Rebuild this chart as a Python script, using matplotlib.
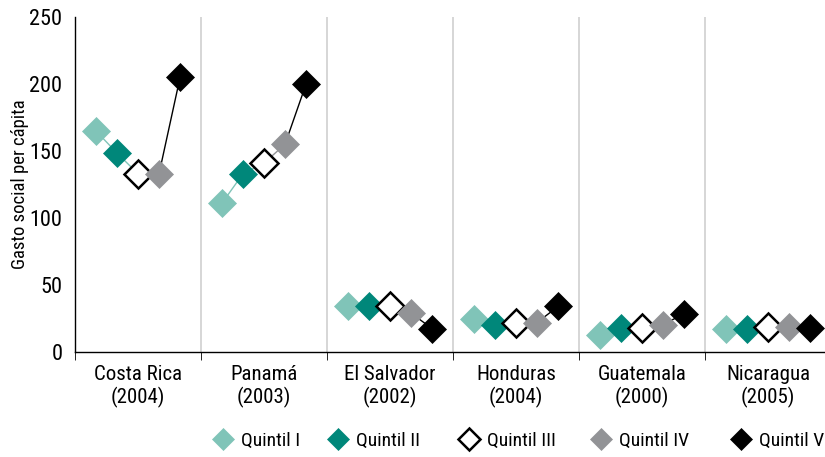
import numpy as np
import matplotlib.pyplot as plt
from matplotlib import font_manager
from matplotlib.lines import Line2D

names = set(f.name for f in font_manager.fontManager.ttflist)
fam = 'DejaVu Sans'
for cand in ['Roboto Condensed', 'Liberation Sans Narrow', 'Open Sans Condensed', 'Roboto']:
    if cand in names:
        fam = cand
        break
plt.rcParams['font.family'] = [fam, 'DejaVu Sans']

countries = ["Costa Rica\n(2004)", "Panamá\n(2003)", "El Salvador\n(2002)",
             "Honduras\n(2004)", "Guatemala\n(2000)", "Nicaragua\n(2005)"]
quintiles = ["Quintil I", "Quintil II", "Quintil III", "Quintil IV", "Quintil V"]

# gasto social per capita by country, quintil I..V
costa_rica = [165, 148.5, 133, 133, 205]
panama = [111, 133, 141, 155, 200]
el_salvador = [34, 34, 34, 29, 17.5]
honduras = [24.5, 20.5, 22, 22, 34]
guatemala = [12.5, 18, 18, 20.5, 28.5]
nicaragua = [17, 17, 18.5, 18.5, 18]
data = [costa_rica, panama, el_salvador, honduras, guatemala, nicaragua]

face = ["#80c4b8", "#00877a", "white", "#929396", "black"]
edge = ["#80c4b8", "#00877a", "black", "#929396", "black"]
seg = ["#80c4b8", "#80c4b8", "#929396", "black"]

W, H = 825, 457
fig, ax = plt.subplots(figsize=(8.25, 4.57), dpi=100)
fig.subplots_adjust(left=75 / W, right=1.0, bottom=1 - 352 / H, top=1 - 17 / H)

offs = np.array([-2, -1, 0, 1, 2]) * 0.167
for i, vals in enumerate(data):
    xs = i + offs
    for k in range(4):
        ax.plot(xs[k:k + 2], vals[k:k + 2], color=seg[k], lw=1.0, zorder=2)
    for k in range(5):
        ax.plot(xs[k], vals[k], marker='D', ms=14.5, mfc=face[k], mec=edge[k],
                mew=1.8 if k == 2 else 0.5, ls='none', zorder=3, clip_on=False)

for b in np.arange(0.5, 5.5, 1):
    ax.axvline(b, color="#d0d0d0", lw=1.2, zorder=1)

ax.set_xlim(-0.5, -0.5 + 750 / 126)
ax.set_ylim(0, 250)
ax.set_yticks(range(0, 251, 50))
ax.set_xticks(range(6))
ax.set_xticklabels(countries, fontsize=15)
ax.set_xticks(np.arange(-0.5, 5.5, 1), minor=True)
ax.tick_params(axis='x', which='major', length=0, pad=9)
ax.tick_params(axis='x', which='minor', length=6, color='black')
ax.tick_params(axis='y', labelsize=16, length=0, pad=9)
ax.set_ylabel("Gasto social per cápita", fontsize=13.5, labelpad=0)
for s in ["top", "right"]:
    ax.spines[s].set_visible(False)
ax.spines["left"].set_linewidth(1.0)
ax.spines["bottom"].set_linewidth(1.0)

# legend entries placed one by one like the reference
leg_x = [222, 337, 468, 600, 740]
for k in range(5):
    h = Line2D([], [], marker='D', ms=11, mfc=face[k], mec=edge[k],
               mew=1.8 if k == 2 else 0.5, ls='none')
    fig.legend(handles=[h], labels=[quintiles[k]], loc='center left',
               bbox_to_anchor=((leg_x[k] - 9) / W, 1 - 441 / H), frameon=False,
               fontsize=14, borderpad=0, borderaxespad=0, handlelength=1.0,
               handletextpad=0.45)

plt.savefig("out.png", dpi=100)
